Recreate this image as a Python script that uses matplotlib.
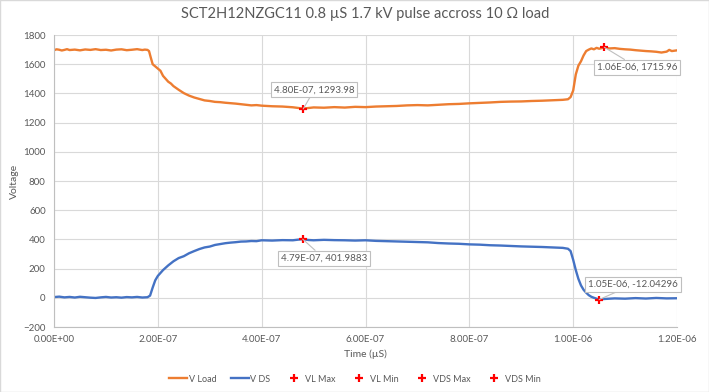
import matplotlib.pyplot as plt
from matplotlib.patches import Rectangle
from matplotlib.ticker import FuncFormatter, MultipleLocator

plt.rcParams['font.family'] = ['Lato', 'DejaVu Sans']

# times are in units of 1e-7 s, converted below
t_load = [0, 0.05, 0.1, 0.15, 0.2, 0.25, 0.3, 0.4, 0.5, 0.6, 0.7, 0.8, 0.9, 1.0,
          1.1, 1.2, 1.3, 1.4, 1.5, 1.6, 1.7, 1.75, 1.8, 1.83, 1.86, 1.9, 1.95,
          2.0, 2.05, 2.1, 2.15, 2.2, 2.25, 2.3, 2.4, 2.5, 2.6, 2.7, 2.8, 2.9,
          3.0, 3.1, 3.2, 3.3, 3.4, 3.5, 3.6, 3.7, 3.8, 3.9, 4.0, 4.2, 4.4, 4.6,
          4.8, 5.0, 5.2, 5.4, 5.6, 5.8, 6.0, 6.2, 6.4, 6.6, 6.8, 7.0, 7.2, 7.4,
          7.6, 7.8, 8.0, 8.2, 8.4, 8.6, 8.8, 9.0, 9.2, 9.4, 9.6, 9.8, 9.9, 9.95,
          10.0, 10.05, 10.1, 10.15, 10.2, 10.25, 10.3, 10.35, 10.4, 10.45, 10.5,
          10.55, 10.6, 10.7, 10.8, 10.9, 11.0, 11.1, 11.2, 11.3, 11.4, 11.5,
          11.6, 11.7, 11.8, 11.85, 11.9, 12.0]
v_load = [1696, 1702, 1699, 1694, 1698, 1703, 1697, 1700, 1695, 1701, 1698, 1703,
          1697, 1699, 1694, 1700, 1702, 1696, 1699, 1703, 1697, 1700, 1698, 1690,
          1650, 1600, 1585, 1570, 1555, 1520, 1500, 1480, 1468, 1450, 1425, 1402,
          1385, 1372, 1362, 1352, 1348, 1342, 1340, 1336, 1333, 1330, 1326, 1322,
          1318, 1320, 1316, 1312, 1310, 1305, 1296, 1304, 1302, 1306, 1303, 1308,
          1306, 1310, 1312, 1314, 1318, 1320, 1318, 1322, 1326, 1328, 1332, 1335,
          1338, 1342, 1344, 1345, 1348, 1350, 1353, 1356, 1360, 1375, 1420, 1530,
          1590, 1620, 1660, 1690, 1700, 1708, 1702, 1712, 1706, 1710, 1716, 1708,
          1710, 1705, 1702, 1700, 1696, 1693, 1690, 1688, 1685, 1680, 1686, 1698,
          1690, 1695]

t_ds = [0, 0.1, 0.2, 0.3, 0.4, 0.5, 0.6, 0.7, 0.8, 0.9, 1.0, 1.1, 1.2, 1.3, 1.4,
        1.5, 1.6, 1.7, 1.8, 1.85, 1.9, 1.95, 2.0, 2.05, 2.1, 2.2, 2.3, 2.4, 2.5,
        2.6, 2.7, 2.8, 2.9, 3.0, 3.1, 3.2, 3.3, 3.4, 3.5, 3.6, 3.7, 3.8, 3.9, 4.0,
        4.2, 4.4, 4.6, 4.79, 4.9, 5.0, 5.2, 5.4, 5.6, 5.8, 6.0, 6.2, 6.4, 6.6, 6.8,
        7.0, 7.2, 7.4, 7.6, 7.8, 8.0, 8.2, 8.4, 8.6, 8.8, 9.0, 9.2, 9.4, 9.6, 9.8,
        9.9, 9.95, 10.0, 10.05, 10.1, 10.15, 10.2, 10.25, 10.3, 10.35, 10.4,
        10.45, 10.5, 10.6, 10.8, 11.0, 11.2, 11.4, 11.6, 11.8, 12.0]
v_ds = [5, 8, 3, 6, 2, 7, 4, 1, -1, 3, 6, 2, 4, 1, 5, 3, 6, 2, 4, 15, 70, 120,
        150, 170, 190, 222, 250, 272, 285, 305, 320, 334, 345, 351, 362, 368, 374,
        378, 381, 385, 386, 389, 388, 394, 392, 395, 394, 402, 396, 394, 397, 395,
        394, 392, 394, 390, 388, 386, 384, 382, 380, 375, 372, 370, 366, 364, 360,
        358, 355, 352, 350, 348, 345, 342, 336, 320, 260, 190, 130, 85, 55, 35,
        18, 7, 0, -6, -12, -8, -4, -6, -2, -5, -1, -4, -3]

# marked points (time in s, voltage)
vl_max = (1.06e-6, 1715.96)
vl_min = (4.80e-7, 1293.98)
vds_max = (4.79e-7, 401.9883)
vds_min = (1.05e-6, -12.04296)

orange = '#ED7D31'
blue = '#4472C4'
grey = '#595959'

fig = plt.figure(figsize=(7.09, 3.92), dpi=100)
ax = fig.add_axes([0.0762, 0.1658, 0.8787, 0.7449])

ax.plot([t * 1e-7 for t in t_load], v_load, color=orange, lw=1.7, label='V Load')
ax.plot([t * 1e-7 for t in t_ds], v_ds, color=blue, lw=1.7, label='V DS')

for pt, name in [(vl_max, 'VL Max'), (vl_min, 'VL Min'),
                 (vds_max, 'VDS Max'), (vds_min, 'VDS Min')]:
    ax.plot([pt[0]], [pt[1]], ls='none', marker='+', ms=6, mew=1.6,
            color='#FF0000', label=name, zorder=5)

offsets = {vl_min: (11, 19), vds_max: (21, -19), vl_max: (33, -20), vds_min: (34, 15)}
for pt, off in offsets.items():
    ax.annotate(f'{pt[0]:.2E}, {pt[1]}', xy=pt, xytext=off,
                textcoords='offset pixels', ha='center', va='center',
                fontsize=7, color=grey,
                bbox=dict(boxstyle='square,pad=0.3', fc='white', ec='#BFBFBF', lw=0.8),
                arrowprops=dict(arrowstyle='-', color='#BFBFBF', lw=0.8,
                                shrinkA=0, shrinkB=0),
                zorder=6)

ax.set_xlim(0, 1.2e-6)
ax.set_ylim(-200, 1800)
ax.xaxis.set_major_locator(MultipleLocator(2e-7))
ax.yaxis.set_major_locator(MultipleLocator(200))
ax.xaxis.set_major_formatter(FuncFormatter(lambda v, p: f'{v:.2E}'))
ax.grid(True, color='#D9D9D9', lw=0.8)
ax.set_axisbelow(True)
for s in ['top', 'right']:
    ax.spines[s].set_visible(False)
for s in ['left', 'bottom']:
    ax.spines[s].set_color('#BFBFBF')
ax.tick_params(length=0, labelsize=7, labelcolor=grey, pad=6)

ax.set_xlabel('Time (µS)', fontsize=7.5, color=grey, labelpad=4)
ax.set_ylabel('Voltage', fontsize=7.5, color=grey, labelpad=3)
ax.set_title('SCT2H12NZGC11 0.8 µS 1.7 kV pulse accross 10 Ω load',
             fontsize=10.5, color=grey, pad=12)

fig.legend(loc='center', bbox_to_anchor=(0.5, 1 - 379 / 392), ncol=6,
           frameon=False, fontsize=6.5, labelcolor=grey, handlelength=2.0,
           handletextpad=0.2, columnspacing=1.6)

fig.patches.append(Rectangle((0, 0), 1, 1, transform=fig.transFigure,
                             fill=False, ec='#D9D9D9', lw=1))

fig.savefig('out.png', dpi=100)
